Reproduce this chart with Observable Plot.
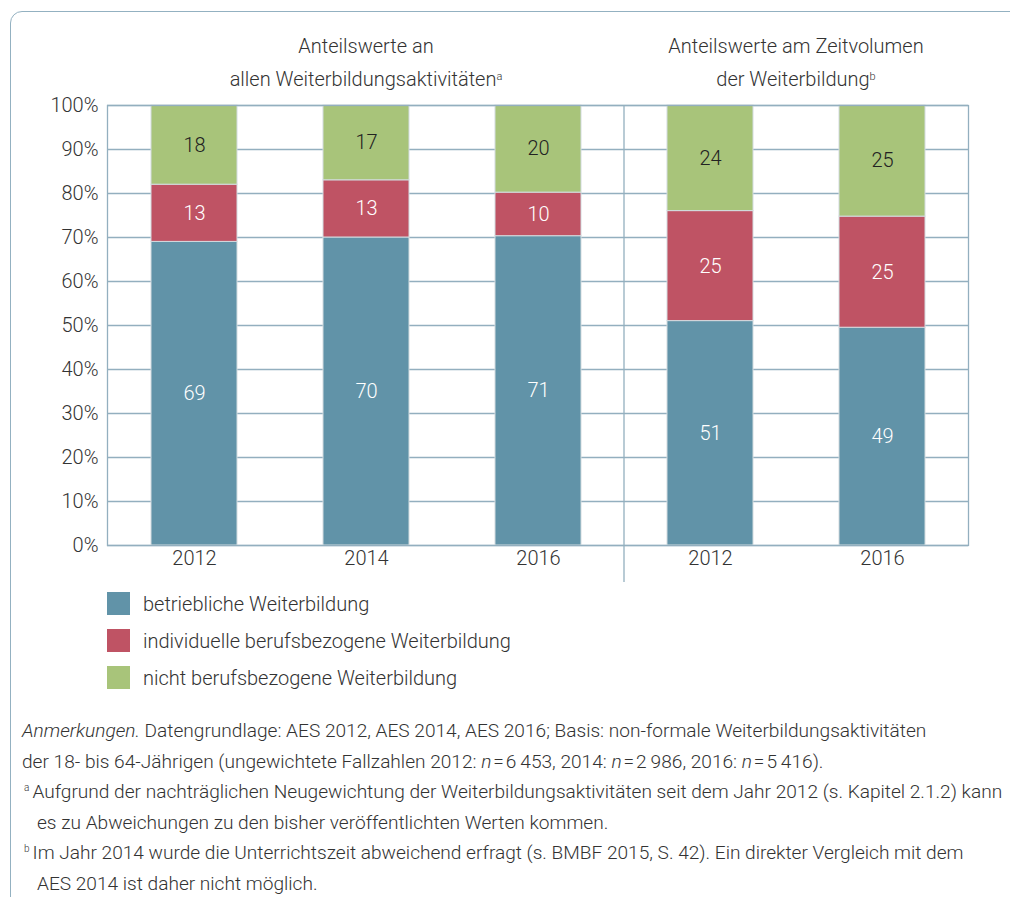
<!DOCTYPE html>
<html><head><meta charset="utf-8">
<script src="https://cdn.jsdelivr.net/npm/d3@7"></script>
<script src="https://cdn.jsdelivr.net/npm/@observablehq/plot@0.6"></script>
<style>
body{margin:0;background:#fff;font-family:Roboto,"Open Sans",sans-serif;font-weight:300;color:#333;overflow:hidden}
#wrap{position:relative;width:1010px;height:897px;overflow:hidden}
#frame{position:absolute;left:10px;top:11px;width:1100px;height:1000px;border:1.5px solid #93b1c1;border-radius:12px;box-sizing:border-box}
#chart{position:absolute;left:0;top:0}
.title{position:absolute;top:30px;font-size:20px;line-height:33px;text-align:center;white-space:nowrap;transform:translateX(-50%);color:#333}
.title sup{font-size:11px;vertical-align:top;position:relative;top:-3px}
#legend{position:absolute;left:107px;top:592px}
.li{display:flex;align-items:center;height:23px;margin-bottom:14px;font-size:20px;color:#333}
.sw{width:23px;height:23px;margin-right:13px}
#notes{position:absolute;left:22px;top:716px;font-size:19.1px;line-height:30.5px;color:#333;white-space:nowrap}
#notes sup{font-size:10px;vertical-align:top;position:relative;top:-4px;margin-left:2px;margin-right:3px}
.ind{padding-left:15px}
</style></head>
<body>
<div id="wrap">
  <div id="frame"></div>
  <div id="chart"></div>
  <div id="legend"></div>
  <div id="notes">
    <div><i>Anmerkungen.</i> Datengrundlage: AES 2012, AES 2014, AES 2016; Basis: non-formale Weiterbildungsaktivitäten</div>
    <div>der 18- bis 64-Jährigen (ungewichtete Fallzahlen 2012: <i>n</i>&#8202;=&#8202;6&#8201;453, 2014: <i>n</i>&#8202;=&#8202;2&#8201;986, 2016: <i>n</i>&#8202;=&#8202;5&#8201;416).</div>
    <div><sup>a</sup>Aufgrund der nachträglichen Neugewichtung der Weiterbildungsaktivitäten seit dem Jahr 2012 (s. Kapitel 2.1.2) kann</div>
    <div class="ind">es zu Abweichungen zu den bisher veröffentlichten Werten kommen.</div>
    <div><sup>b</sup>Im Jahr 2014 wurde die Unterrichtszeit abweichend erfragt (s. BMBF 2015, S. 42). Ein direkter Vergleich mit dem</div>
    <div class="ind">AES 2014 ist daher nicht möglich.</div>
  </div>
</div>
<script>
// ---- data ----
const barKeys = ["A2012", "A2014", "A2016", "B2012", "B2016"];
const barYears = ["2012", "2014", "2016", "2012", "2016"];
const panelTitlesLine1 = ["Anteilswerte an", "Anteilswerte am Zeitvolumen"];
const panelTitlesLine2 = ["allen Weiterbildungsaktivitäten", "der Weiterbildung"];
const panelMarks = ["a", "b"];
const categories = ["betriebliche Weiterbildung", "individuelle berufsbezogene Weiterbildung", "nicht berufsbezogene Weiterbildung"];
const betrieblich = [69, 70, 71, 51, 49];
const individuell = [13, 13, 10, 25, 25];
const nichtBeruf = [18, 17, 20, 24, 25];
const colors = ["#6193a8", "#bf5364", "#a8c47a"];
const yTicks = [0, 0.1, 0.2, 0.3, 0.4, 0.5, 0.6, 0.7, 0.8, 0.9, 1];

const series = [betrieblich, individuell, nichtBeruf];
const rows = [];
barKeys.forEach((k, i) => categories.forEach((c, j) => rows.push({key: k, cat: c, value: series[j][i]})));
const yearOf = Object.fromEntries(barKeys.map((k, i) => [k, barYears[i]]));

const gridColor = "#93afbf";
const plot = Plot.plot({
  width: 1010, height: 590,
  marginLeft: 107, marginRight: 42, marginTop: 105, marginBottom: 45,
  style: {fontFamily: "Roboto, 'Open Sans', sans-serif", fontWeight: 300, fontSize: "20px", color: "#333", background: "transparent", overflow: "visible"},
  x: {domain: barKeys, paddingInner: 0.5, paddingOuter: 0.25, tickFormat: k => yearOf[k], label: null, tickSize: 0, tickPadding: 5},
  y: {domain: [0, 1], ticks: yTicks, tickFormat: d3.format(".0%"), label: null, tickSize: 0, tickPadding: 9},
  color: {domain: categories, range: colors},
  marks: [
    Plot.ruleY(yTicks, {stroke: gridColor, strokeWidth: 1.3}),
    Plot.barY(rows, Plot.stackY({offset: "normalize"}, {x: "key", y: "value", z: "cat", fill: "cat", stroke: "#d3dce0", strokeWidth: 1})),
    Plot.text(rows, Plot.stackY({offset: "normalize"}, {x: "key", y: "value", z: "cat", text: d => String(d.value),
      fill: d => d.cat === categories[2] ? "#222" : "#fff", fontSize: 20})),
    Plot.frame({stroke: gridColor, strokeWidth: 1.3})
  ]
});
document.getElementById("chart").appendChild(plot);

const xs = plot.scale("x"), ys = plot.scale("y");
const bw = xs.bandwidth;
const center = k => xs.apply(k) + bw / 2;
const sepX = (center("A2016") + center("B2012")) / 2;
d3.select(plot).append("line")
  .attr("x1", sepX).attr("x2", sepX)
  .attr("y1", ys.apply(1)).attr("y2", ys.apply(0) + 37)
  .attr("stroke", gridColor).attr("stroke-width", 1.3);

// panel titles
const titleX = [center("A2014"), (center("B2012") + center("B2016")) / 2];
const wrap = document.getElementById("wrap");
titleX.forEach((x, i) => {
  const d = document.createElement("div");
  d.className = "title";
  d.style.left = x + "px";
  d.innerHTML = panelTitlesLine1[i] + "<br>" + panelTitlesLine2[i] + "<sup>" + panelMarks[i] + "</sup>";
  wrap.appendChild(d);
});

// legend
const lg = document.getElementById("legend");
categories.forEach((c, i) => {
  const it = document.createElement("div");
  it.className = "li";
  it.innerHTML = `<div class="sw" style="background:${colors[i]}"></div><span>${c}</span>`;
  lg.appendChild(it);
});
</script>
</body></html>
